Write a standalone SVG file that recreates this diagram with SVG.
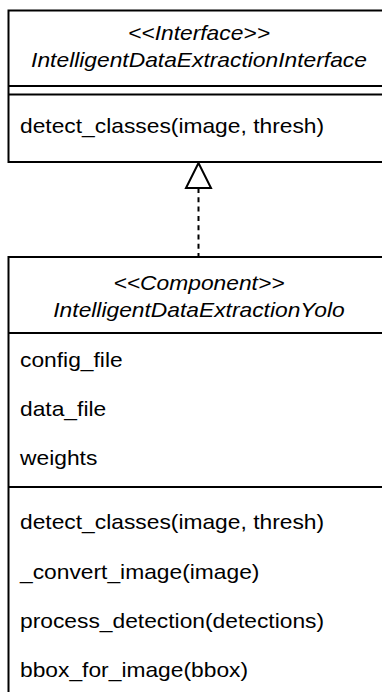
<svg xmlns="http://www.w3.org/2000/svg" width="382" height="692" viewBox="0 0 382 692">
  <style>
    .box { fill: #ffffff; stroke: #000000; stroke-width: 2; }
    .sep { stroke: #000000; stroke-width: 2; fill: none; }
    .t { font-family: "Liberation Sans", Arial, Helvetica, sans-serif; font-size: 22.8px; fill: #000000; }
    .title { font-style: italic; text-anchor: middle; }
    .edge { stroke: #000000; stroke-width: 2; fill: none; stroke-dasharray: 5 4.3; }
    .head { stroke: #000000; stroke-width: 2; fill: #ffffff; stroke-linejoin: miter; }
  </style>

  <rect width="382" height="692" fill="#ffffff"/>

  <!-- realization connector: Yolo implements the interface -->
  <g id="connectors">
    <line class="edge" x1="198.5" y1="188" x2="198.5" y2="257"/>
    <polygon class="head" points="198.5,163 186,188 211,188"/>
  </g>

  <!-- interface class -->
  <g id="IntelligentDataExtractionInterface">
    <rect class="box" x="8.5" y="10.5" width="400" height="151.5"/>
    <line class="sep" x1="8.5" y1="86" x2="400" y2="86"/>
    <line class="sep" x1="8.5" y1="94.5" x2="400" y2="94.5"/>
    <text class="t title" transform="translate(199,39.5) scale(1,0.89)">&lt;&lt;Interface&gt;&gt;</text>
    <text class="t title" transform="translate(199,67) scale(1,0.89)">IntelligentDataExtractionInterface</text>
    <text class="t" transform="translate(20,133) scale(1,0.89)">detect_classes(image, thresh)</text>
  </g>

  <!-- component class -->
  <g id="IntelligentDataExtractionYolo">
    <rect class="box" x="8.5" y="257" width="400" height="460"/>
    <line class="sep" x1="8.5" y1="333" x2="400" y2="333"/>
    <line class="sep" x1="8.5" y1="487" x2="400" y2="487"/>
    <text class="t title" transform="translate(199,290) scale(1,0.89)">&lt;&lt;Component&gt;&gt;</text>
    <text class="t title" transform="translate(199,317) scale(1,0.89)">IntelligentDataExtractionYolo</text>
    <text class="t" transform="translate(20,367) scale(1,0.89)">config_file</text>
    <text class="t" transform="translate(20,416) scale(1,0.89)">data_file</text>
    <text class="t" transform="translate(20,465) scale(1,0.89)">weights</text>
    <text class="t" transform="translate(20,529) scale(1,0.89)">detect_classes(image, thresh)</text>
    <text class="t" transform="translate(20,578.5) scale(1,0.89)">_convert_image(image)</text>
    <text class="t" transform="translate(20,628) scale(1,0.89)">process_detection(detections)</text>
    <text class="t" transform="translate(20,677.3) scale(1,0.89)">bbox_for_image(bbox)</text>
  </g>
</svg>
